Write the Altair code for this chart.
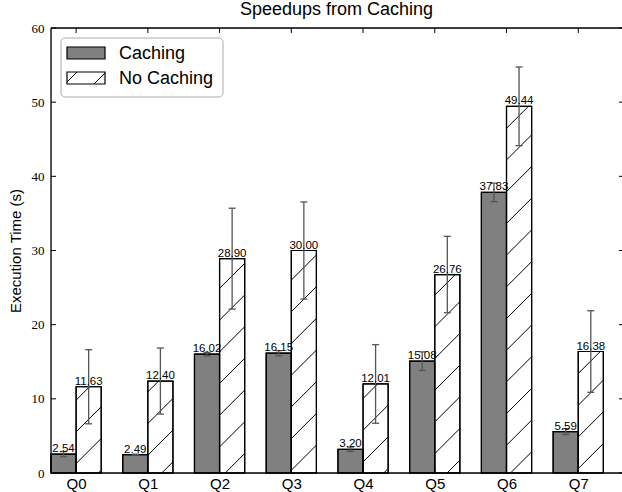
import altair as alt
import pandas as pd
import math

# ---------------- data ----------------
QUERIES = ["Q0", "Q1", "Q2", "Q3", "Q4", "Q5", "Q6", "Q7"]
CACHING = [2.54, 2.49, 16.02, 16.15, 3.20, 15.08, 37.83, 5.59]
CACHING_ERR = [0.35, 0.05, 0.25, 0.35, 0.30, 1.25, 1.25, 0.40]
NO_CACHING = [11.63, 12.40, 28.90, 30.00, 12.01, 26.76, 49.44, 16.38]
NO_CACHING_ERR = [5.00, 4.45, 6.80, 6.55, 5.30, 5.15, 5.30, 5.50]
SERIES = ["Caching", "No Caching"]
Y_TICKS = [0, 10, 20, 30, 40, 50, 60]

# ---------------- style ----------------
W = 0.35            # bar width in x units
XMAX = 7.96
YMAX = 60
PW, PH = 571, 445
SANS = "Liberation Sans"
SERIF = "Liberation Serif"
ERR_COLOR = "#555555"

rows = []
for i, q in enumerate(QUERIES):
    rows.append(dict(q=q, series=SERIES[0], x0=i, x1=i + W, xc=i + W / 2,
                     value=CACHING[i], lo=CACHING[i] - CACHING_ERR[i],
                     hi=CACHING[i] + CACHING_ERR[i]))
    rows.append(dict(q=q, series=SERIES[1], x0=i + W, x1=i + 2 * W, xc=i + 1.5 * W,
                     value=NO_CACHING[i], lo=NO_CACHING[i] - NO_CACHING_ERR[i],
                     hi=NO_CACHING[i] + NO_CACHING_ERR[i]))
df = pd.DataFrame(rows)

# hatch lines ("/") inside the No Caching bars, 45 degrees on screen
px_x = PW / XMAX
px_y = PH / YMAX
slope = px_x / px_y
spacing = 31.7 / px_y
phase = 2.16
hatch = []
for r in rows:
    if r["series"] != SERIES[1]:
        continue
    L, R, H = r["x0"], r["x1"], r["value"]
    kmin = math.floor((slope * L + phase - H) / spacing) - 1
    kmax = math.ceil((slope * R + phase) / spacing) + 1
    for k in range(kmin, kmax + 1):
        off = phase - k * spacing  # y = slope*x + off
        xs = max(L, (0 - off) / slope)
        xe = min(R, (H - off) / slope)
        if xe - xs > 1e-6:
            hatch.append(dict(x0=xs, x1=xe, y0=slope * xs + off, y1=slope * xe + off))
hatch_df = pd.DataFrame(hatch)

xscale = alt.Scale(domain=[0, XMAX], nice=False, zero=False)
yscale = alt.Scale(domain=[0, YMAX], nice=False, zero=True)

xaxis = alt.Axis(values=[i + W for i in range(len(QUERIES))],
                 labelExpr="'Q' + floor(datum.value)",
                 ticks=False, domain=False, grid=False, title=None,
                 labelFont=SANS, labelFontSize=15, labelColor="black",
                 labelPadding=3)
yaxis = alt.Axis(values=Y_TICKS, ticks=False, domain=False, grid=False,
                 title="Execution Time (s)", titleFont=SANS, titleFontSize=15,
                 titleFontWeight="normal", titleColor="black", titlePadding=8,
                 labelFont=SERIF, labelFontSize=13, labelColor="black",
                 labelPadding=7)


def X(field):
    return alt.X(field, scale=xscale, axis=xaxis)


def Y(field):
    return alt.Y(field, scale=yscale, axis=yaxis)


base = alt.Chart(df)

bars = base.mark_rect(stroke="black", strokeWidth=1.2).encode(
    x=X("x0:Q"), x2="x1:Q",
    y=Y("value:Q"), y2=alt.datum(0),
    fill=alt.Fill("series:N", scale=alt.Scale(domain=SERIES, range=["#808080", "#ffffff"]),
                  legend=None),
)

hatch_lines = alt.Chart(hatch_df).mark_rule(color="black", strokeWidth=1).encode(
    x=X("x0:Q"), x2="x1:Q", y=Y("y0:Q"), y2="y1:Q",
)

# redraw bar outlines over the hatch
outlines = base.mark_rect(stroke="black", strokeWidth=1.2, fillOpacity=0).encode(
    x=X("x0:Q"), x2="x1:Q", y=Y("value:Q"), y2=alt.datum(0),
)

err = base.mark_rule(color=ERR_COLOR, strokeWidth=1.3).encode(
    x=X("xc:Q"), y=Y("lo:Q"), y2="hi:Q",
)
cap_lo = base.mark_tick(orient="horizontal", size=7, thickness=1.3, color=ERR_COLOR, opacity=1).encode(
    x=X("xc:Q"), y=Y("lo:Q"),
)
cap_hi = base.mark_tick(orient="horizontal", size=7, thickness=1.3, color=ERR_COLOR, opacity=1).encode(
    x=X("xc:Q"), y=Y("hi:Q"),
)

labels = base.mark_text(font=SANS, fontSize=11.5, baseline="alphabetic", dy=-2,
                        color="black").encode(
    x=X("xc:Q"), y=Y("value:Q"),
    text=alt.Text("value:Q", format=".2f"),
)

# ---------------- frame and inward ticks ----------------
one = pd.DataFrame({"a": [0]})
frame_left = alt.Chart(one).mark_rule(color="black", strokeWidth=1.3).encode(
    x=alt.value(0), y=alt.value(0), y2=alt.value(PH))
frame_top = alt.Chart(one).mark_rule(color="black", strokeWidth=1.3).encode(
    x=alt.value(0), x2=alt.value(PW), y=alt.value(0))
frame_bottom = alt.Chart(one).mark_rule(color="black", strokeWidth=1.3).encode(
    x=alt.value(0), x2=alt.value(PW), y=alt.value(PH))

yt = pd.DataFrame({"value": Y_TICKS})
ticks_left = alt.Chart(yt).mark_rule(color="black", strokeWidth=1).encode(
    x=alt.value(0), x2=alt.value(5), y=Y("value:Q"))
ticks_right = alt.Chart(yt).mark_rule(color="black", strokeWidth=1).encode(
    x=alt.value(PW - 3), x2=alt.value(PW), y=Y("value:Q"))
xt = pd.DataFrame({"x0": [i + W for i in range(len(QUERIES))]})
ticks_top = alt.Chart(xt).mark_rule(color="black", strokeWidth=1).encode(
    x=X("x0:Q"), y=alt.value(0), y2=alt.value(5))
ticks_bottom = alt.Chart(xt).mark_rule(color="black", strokeWidth=1).encode(
    x=X("x0:Q"), y=alt.value(PH - 5), y2=alt.value(PH))

# ---------------- legend ----------------
leg_box = alt.Chart(one).mark_rect(fill="white", stroke="#aaaaaa", strokeWidth=1,
                                   cornerRadius=4).encode(
    x=alt.value(10), x2=alt.value(172), y=alt.value(10), y2=alt.value(69))
leg_sw1 = alt.Chart(one).mark_rect(fill="#808080", stroke="black", strokeWidth=1.2).encode(
    x=alt.value(16), x2=alt.value(54), y=alt.value(19), y2=alt.value(31))
leg_sw2 = alt.Chart(one).mark_rect(fill="white", stroke="black", strokeWidth=1.2).encode(
    x=alt.value(16), x2=alt.value(54), y=alt.value(44), y2=alt.value(56))
leg_h1 = alt.Chart(one).mark_rule(color="black", strokeWidth=1).encode(
    x=alt.value(16), x2=alt.value(26), y=alt.value(54), y2=alt.value(44))
leg_h2 = alt.Chart(one).mark_rule(color="black", strokeWidth=1).encode(
    x=alt.value(43), x2=alt.value(54), y=alt.value(56), y2=alt.value(45))
leg_t1 = alt.Chart(one).mark_text(font=SANS, fontSize=18, align="left",
                                  baseline="alphabetic", color="black").encode(
    x=alt.value(68), y=alt.value(31.4), text=alt.value(SERIES[0]))
leg_t2 = alt.Chart(one).mark_text(font=SANS, fontSize=18, align="left",
                                  baseline="alphabetic", color="black").encode(
    x=alt.value(68), y=alt.value(56.4), text=alt.value(SERIES[1]))

chart = alt.layer(
    bars, hatch_lines, outlines, err, cap_lo, cap_hi, labels,
    ticks_left, ticks_right, ticks_top, ticks_bottom,
    frame_left, frame_top, frame_bottom,
    leg_box, leg_sw1, leg_sw2, leg_h1, leg_h2, leg_t1, leg_t2,
).properties(
    width=PW, height=PH,
    title=alt.TitleParams("Speedups from Caching", font=SANS, fontSize=18,
                          fontWeight="normal", color="black", anchor="middle", offset=3),
    autosize=alt.AutoSizeParams(type="none"),
    padding={"left": 51, "top": 28, "right": 0, "bottom": 19},
).configure_view(stroke=None).configure(background="white")

chart.save("out.html", embed_options={"renderer": "svg", "actions": False})
